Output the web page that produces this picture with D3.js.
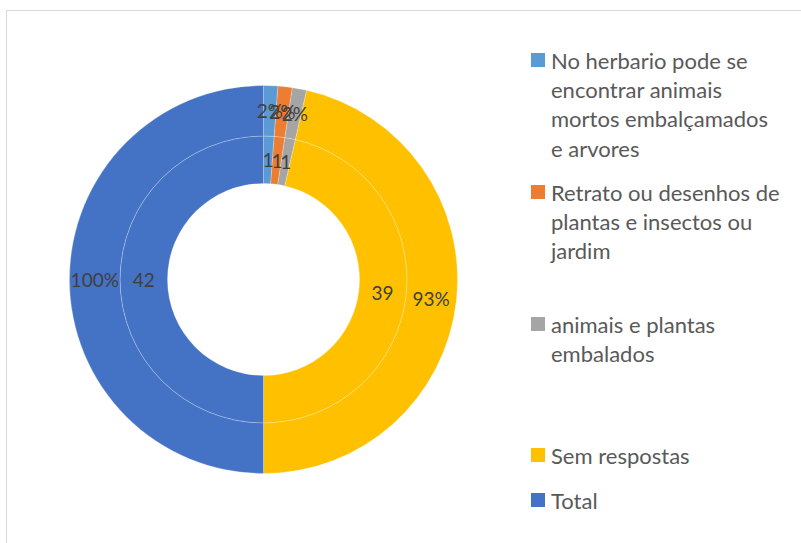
<!doctype html>
<html>
<head>
<meta charset="utf-8" />
<script src="https://d3js.org/d3.v7.min.js"></script>
<style>
  body { margin: 0; background: #fff; }
  text { font-family: Lato, "Liberation Sans", sans-serif; }
</style>
</head>
<body>
<div id="chart"></div>
<script type="text/javascript">

// categories and the two series (inner ring = counts, outer ring = share of total)
var categories = ["No herbario pode se encontrar animais mortos embalçamados e arvores",
                  "Retrato ou desenhos de plantas e insectos ou jardim",
                  "animais e plantas embalados",
                  "Sem respostas",
                  "Total"];
var counts = [1, 1, 1, 39, 42];
var percents = [0.0238, 0.0238, 0.0238, 0.9286, 1.0];
var colors = ["#5B9BD5", "#ED7D31", "#A5A5A5", "#FFC000", "#4472C4"];

var W = 801, H = 543;
var cx = 263.5, cy = 279.5;
var rHole = 96, rMid = 143.5, rOuter = 194;

var svg = d3.select("#chart").append("svg").attr("width", W).attr("height", H);

// chart area border
svg.append("rect")
  .attr("x", 6.5).attr("y", 10.5).attr("width", 800).attr("height", 540)
  .attr("fill", "none").attr("stroke", "#d9d9d9").attr("stroke-width", 1);

var pie = d3.pie().sort(null).value(d => d);
var g = svg.append("g").attr("transform", "translate(" + cx + "," + cy + ")");

function drawRing(values, r0, r1, fmt) {
  var arc = d3.arc().innerRadius(r0).outerRadius(r1);
  var arcs = pie(values);
  var ring = g.append("g");
  ring.selectAll("path").data(arcs).enter().append("path")
    .attr("d", arc)
    .attr("fill", (d, i) => colors[i])
    .attr("stroke", "rgba(255,255,255,0.3)")
    .attr("stroke-width", 0.8);
  ring.selectAll("text").data(arcs).enter().append("text")
    .attr("transform", d => "translate(" + arc.centroid(d) + ")")
    .attr("text-anchor", "middle")
    .attr("dominant-baseline", "central")
    .attr("font-size", "19px")
    .attr("fill", "#404040")
    .text(d => fmt(d.data));
}

drawRing(counts, rHole, rMid, d3.format("d"));
drawRing(percents, rMid, rOuter, d3.format(".0%"));

// legend
var legendTop = [60, 192, 324, 455, 500];
var lineH = 29.2;
var leg = svg.append("g");
categories.forEach(function(name, i) {
  leg.append("rect")
    .attr("x", 531).attr("y", legendTop[i] - 7)
    .attr("width", 14).attr("height", 14)
    .attr("fill", colors[i]);
  var t = leg.append("text")
    .attr("x", 551).attr("y", legendTop[i])
    .attr("dominant-baseline", "central")
    .attr("font-size", "22px")
    .attr("fill", "#595959");
  // wrap words into lines
  var words = name.split(" "), line = [], n = 0;
  var ts = t.append("tspan").attr("x", 551).attr("y", legendTop[i]);
  words.forEach(function(w) {
    line.push(w);
    ts.text(line.join(" "));
    if (ts.node().getComputedTextLength() > 231 && line.length > 1) {
      line.pop();
      ts.text(line.join(" "));
      line = [w];
      n++;
      ts = t.append("tspan").attr("x", 551).attr("y", legendTop[i] + n * lineH).text(w);
    }
  });
});

</script>
</body>
</html>
